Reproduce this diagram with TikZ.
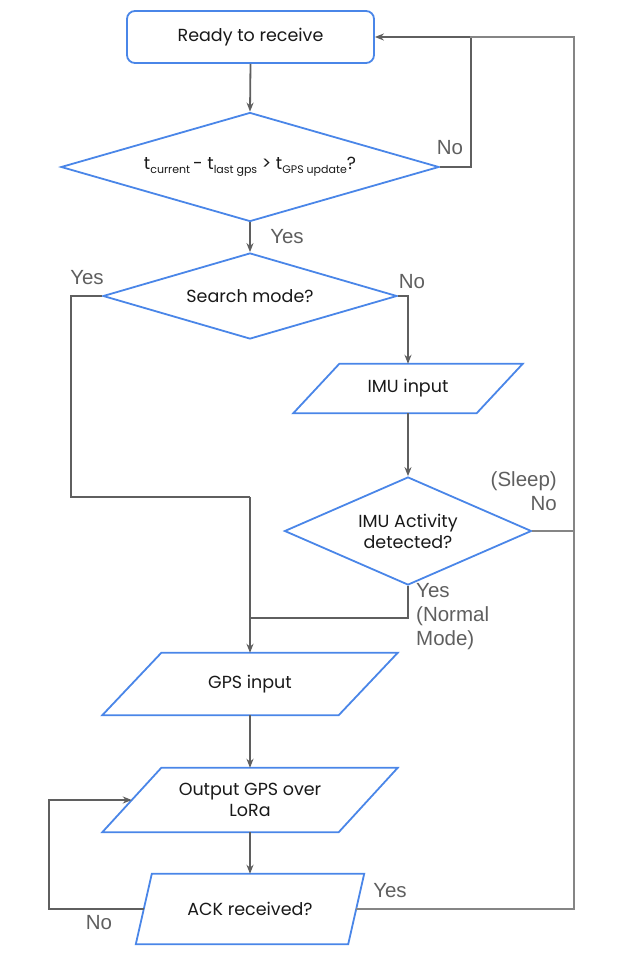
\documentclass[tikz,border=0pt]{standalone}
\usepackage{fontspec}
\setmainfont{Poppins}
\newfontfamily\lblfont{Liberation Sans}
\usetikzlibrary{shapes.geometric,arrows.meta,calc}
\definecolor{nodeblue}{HTML}{4A86E8}
\definecolor{conngray}{HTML}{5F5F5F}
\definecolor{thingray}{HTML}{858585}
\definecolor{lblgray}{HTML}{5F5F5F}
\newcommand\sbs[1]{\raisebox{-0.45ex}{\fontsize{11}{11}\selectfont #1}}
\newcommand\drawpara[2]{%
  \draw[nodeblue,line width=1.8pt,line join=miter]
    ($(#1.south west)+(-#2,0)$) -- ($(#1.south east)+(-#2,0)$) --
    ($(#1.north east)+(#2,0)$) -- ($(#1.north west)+(#2,0)$) -- cycle;}
\begin{document}
\begin{tikzpicture}[x=1pt,y=-1pt,
  txt/.style={font=\fontsize{17.5}{21}\selectfont, text=black!90, align=center, inner sep=0pt},
  roundbox/.style={txt, draw=nodeblue, line width=1.8pt, rounded corners=8pt, minimum width=247pt, minimum height=52pt},
  decision/.style={txt, diamond, draw=nodeblue, line width=1.8pt},
  parabox/.style={txt},
  conn/.style={draw=conngray, line width=1.8pt},
  thin/.style={draw=thingray, line width=1.2pt},
  arr/.style={-{Stealth[length=9pt,width=7pt]}},
  lbl/.style={font=\lblfont\fontsize{20.5}{24}\selectfont, text=lblgray, inner sep=0pt}
]
\useasboundingbox (0,0) rectangle (618,962);

% nodes
\node[roundbox] (ready) at (250.5,37) {Ready to receive};
\node[decision, aspect=3.468, minimum width=378pt, minimum height=109pt] (d1) at (250,167)
  {t\sbs{current}\,- t\sbs{last gps} > t\sbs{GPS update}?};
\node[decision, aspect=3.419, minimum width=294pt, minimum height=86pt] (d2) at (250,296) {Search mode?};
\node[parabox, minimum width=183pt, minimum height=49pt] (imu) at (408,388.5) {IMU input};
\node[decision, aspect=2.287, minimum width=247pt, minimum height=108pt] (d3) at (408,531) {IMU Activity\\detected?};
\node[parabox, minimum width=236pt, minimum height=62pt] (gps) at (250,684) {GPS input};
\node[parabox, minimum width=236pt, minimum height=64pt] (out) at (250,800) {Output GPS over\\LoRa};
\node[parabox, minimum width=212pt, minimum height=70pt] (ack) at (250,909) {ACK received?};

\drawpara{imu}{23}
\drawpara{gps}{29.5}
\drawpara{out}{29.5}
\drawpara{ack}{8}

% junction coordinates
\coordinate (r1) at (574,37);
\coordinate (j1) at (250,497);
\coordinate (j2) at (250,618);

% connectors
\draw[conn,arr] (ready.south) -- (d1.north);
\draw[conn,arr] (d1.east) -- ++(31,0) |- (ready.east);
\draw[conn,arr] (d1.south) -- (d2.north);
\draw[conn] (d2.west) -- ++(-31,0) |- (j1);
\draw[conn,arr] (j1) -- (gps.north);
\draw[conn,arr] (d2.east) -| (imu.north);
\draw[conn,arr] (imu.south) -- (d3.north);
\draw[conn] (d3.south) |- (j2);
\draw[thin] (d3.east) -- (d3.east -| r1);
\draw[thin] (ack.east) -| (r1) -- (470,37);
\draw[conn,arr] (gps.south) -- (out.north);
\draw[conn,arr] (out.south) -- (ack.north);
\draw[conn,arr] (ack.west) -- ++(-95,0) |- (out.west);

% labels
\node[lbl] (l1) at (450,148) {No};
\node[lbl] (l2) at (287,237) {Yes};
\node[lbl] (l3) at (87,278) {Yes};
\node[lbl] (l4) at (412,282) {No};
\node[lbl, align=right, anchor=east] (l5) at (557,491) {(Sleep)\\No};
\node[lbl, align=left, anchor=north west] (l6) at (416,583) {Yes\\(Normal\\Mode)};
\node[lbl] (l7) at (390,891) {Yes};
\node[lbl] (l8) at (99,923) {No};
\end{tikzpicture}
\end{document}
